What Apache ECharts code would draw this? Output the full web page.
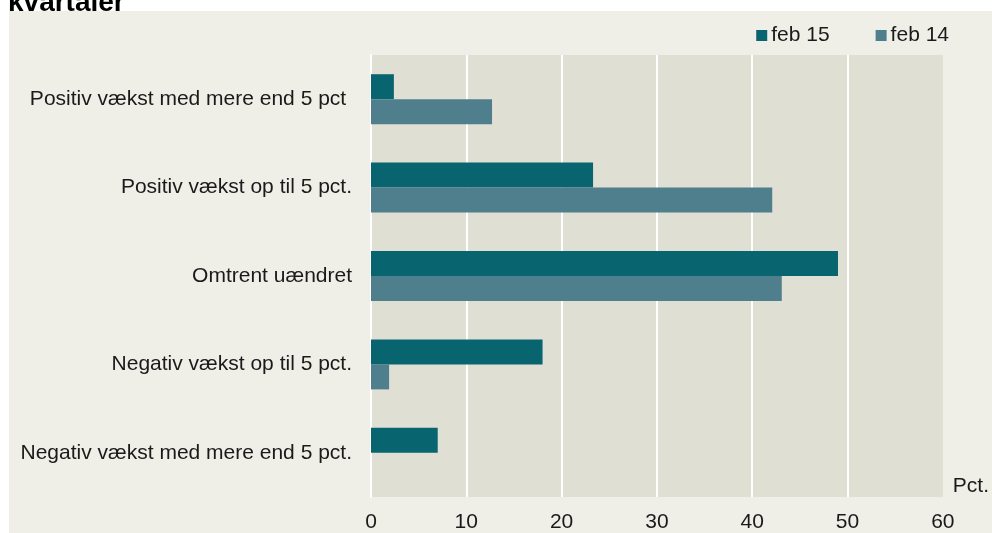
<!DOCTYPE html>
<html>
<head>
<meta charset="utf-8">
<script src="https://cdn.jsdelivr.net/npm/echarts@6/dist/echarts.min.js"></script>
<style>
	html, body { margin: 0; padding: 0; background: #fff; }
	#main { width: 992px; height: 533px; }
</style>
</head>
<body>
<div id="main"></div>
<script>
var categories = ['Positiv vækst med mere end 5 pct ', 'Positiv vækst op til 5 pct.', 'Omtrent uændret', 'Negativ vækst op til 5 pct.', 'Negativ vækst med mere end 5 pct.'];
var feb15 = [2.4, 23.3, 49.0, 18.0, 7.0];
var feb14 = [12.7, 42.1, 43.1, 1.9, 0];
var xTicks = [0, 10, 20, 30, 40, 50, 60];

var myChart = echarts.init(document.getElementById('main'));

var font = 'Liberation Sans, Arial, sans-serif';
var option = {
	backgroundColor: '#ffffff',
	textStyle: { fontFamily: font },
	graphic: [{
		type: 'rect',
		z: -10,
		shape: { x: 9, y: 11, width: 983, height: 522 },
		style: { fill: '#EFEEE7' }
	}, {
		// title is cut at the top in the original
		type: 'text',
		z: 10,
		style: {
			x: 8,
			y: 17,
			text: 'kvartaler',
			verticalAlign: 'bottom',
			fill: '#000',
			font: 'bold 28px ' + font
		}
	}],
	legend: {
		top: 20,
		right: 38,
		itemWidth: 11,
		itemHeight: 11,
		itemGap: 46,
		icon: 'rect',
		textStyle: { fontSize: 21, color: '#1a1a1a', padding: [0, 0, 0, -1] },
		data: ['feb 15', 'feb 14']
	},
	grid: {
		left: 371,
		right: 47,
		top: 55,
		bottom: 34,
		show: true,
		backgroundColor: '#E0DFD4',
		borderWidth: 0,
		containLabel: false
	},
	xAxis: {
		type: 'value',
		min: xTicks[0],
		max: xTicks[xTicks.length - 1],
		interval: 10,
		name: 'Pct.',
		nameLocation: 'end',
		nameGap: 10,
		nameTextStyle: { fontSize: 21, color: '#1a1a1a', verticalAlign: 'bottom', align: 'left' },
		axisLine: { show: false },
		axisTick: { show: false },
		axisLabel: { fontSize: 21, color: '#1a1a1a', margin: 15 },
		splitLine: {
			show: true,
			showMaxLine: false,
			lineStyle: { color: '#ffffff', width: 2 }
		}
	},
	yAxis: {
		type: 'category',
		inverse: true,
		data: categories,
		axisLine: { show: true, lineStyle: { color: '#ffffff', width: 2 } },
		axisTick: { show: false },
		axisLabel: { fontSize: 21, color: '#1a1a1a', margin: 19 },
		splitLine: { show: false }
	},
	series: [{
		name: 'feb 15',
		type: 'bar',
		data: feb15,
		barWidth: 25,
		barGap: '0%',
		itemStyle: { color: '#08646F' }
	}, {
		name: 'feb 14',
		type: 'bar',
		data: feb14,
		barWidth: 25,
		barGap: '0%',
		itemStyle: { color: '#4F7F8C' }
	}]
};
myChart.setOption(option);
</script>
</body>
</html>
